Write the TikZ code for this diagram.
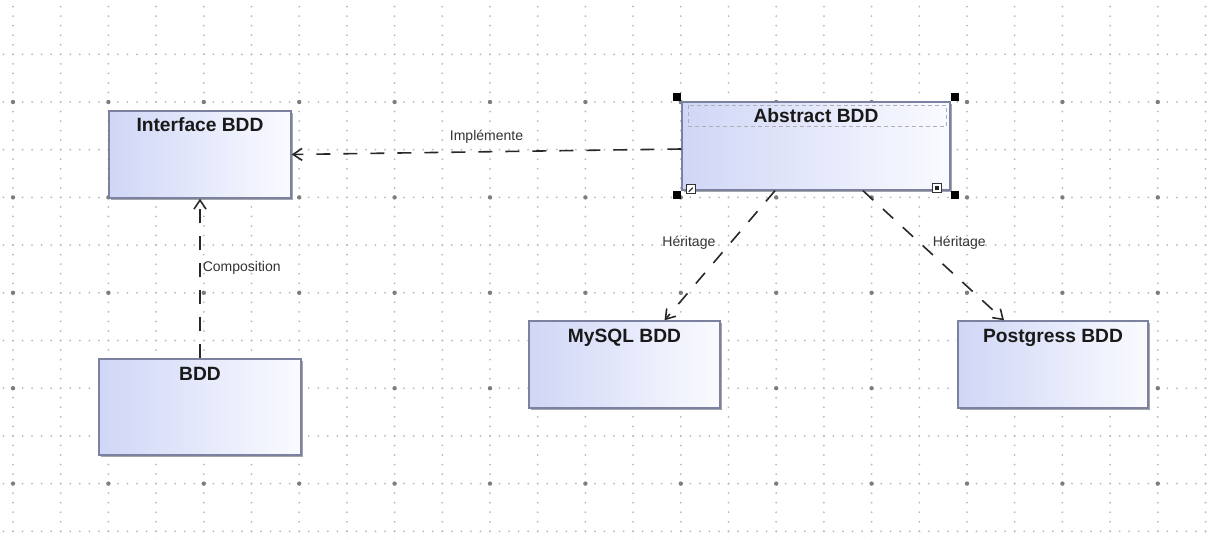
\documentclass[tikz,border=0pt]{standalone}
\usepackage{fontspec}
\setmainfont{Liberation Sans}
\usetikzlibrary{arrows.meta,shadows}

\definecolor{boxline}{RGB}{125,129,160}
\definecolor{boxleft}{RGB}{208,214,246}
\definecolor{boxright}{RGB}{250,251,255}
\definecolor{boxshadow}{RGB}{165,165,172}
\definecolor{griddot}{RGB}{185,185,185}
\definecolor{gridmajor}{RGB}{125,125,125}
\definecolor{linkcol}{RGB}{40,40,40}
\definecolor{titledash}{RGB}{175,175,185}

\tikzset{
  classbox/.style={draw=boxline, line width=0.7pt, inner sep=0pt,
    left color=boxleft, right color=boxright,
    drop shadow={shadow xshift=1pt, shadow yshift=-1pt, fill=boxshadow, opacity=1}},
  ttl/.style={font=\bfseries\fontsize{9.6}{11}\selectfont, text=black!90, anchor=base, inner sep=0pt},
  lbl/.style={font=\fontsize{7}{8}\selectfont, text=black!80},
  link/.style={draw=linkcol, line width=0.8pt, dash pattern=on 7pt off 6.5pt,
    -{Straight Barb[length=4.5pt,width=6pt]}},
  gridline/.style={draw=griddot, line width=1pt, line cap=round, dash pattern=on 0pt off 4.77pt}
}

\begin{document}
\begin{tikzpicture}[x=0.5pt,y=-0.5pt]
\fill[white] (0,0) rectangle (1210,540);
\useasboundingbox (0,0) rectangle (1210,540);

%dotted grid
\foreach \i in {0,...,25}{
  \pgfmathsetmacro\gx{13+47.7*\i}
  \draw[gridline] (\gx,-2.94) -- (\gx,545);
}
\foreach \j in {1,...,11}{
  \pgfmathsetmacro\gy{6.6+47.7*\j}
  \draw[gridline] (3.46,\gy) -- (1215,\gy);
}
\foreach \i in {0,2,...,24}
  \foreach \j in {2,4,...,10}
    \fill[gridmajor] (13+47.7*\i,6.6+47.7*\j) circle (1.1pt);

%classes
\node[classbox, minimum width=91pt, minimum height=43.5pt] (iface) at (200,154.5) {};
\node[ttl] (ifacettl) at ([yshift=-10.75pt]iface.north) {Interface BDD};

\node[classbox, minimum width=101pt, minimum height=48pt] (bdd) at (200,407) {};
\node[ttl] (bddttl) at ([yshift=-11pt]bdd.north) {BDD};

\node[classbox, minimum width=134pt, minimum height=44pt] (abstract) at (816,146) {};
\node[ttl] (abstractttl) at ([yshift=-10.75pt]abstract.north) {Abstract BDD};

\node[classbox, minimum width=95.5pt, minimum height=43.5pt] (mysql) at (624.5,364.5) {};
\node[ttl] (mysqlttl) at ([yshift=-11pt]mysql.north) {MySQL BDD};

\node[classbox, minimum width=95pt, minimum height=43.5pt] (pgsql) at (1053,364.5) {};
\node[ttl] (pgsqlttl) at ([yshift=-11pt]pgsql.north) {Postgress BDD};

%selection of Abstract BDD
\draw[titledash, line width=0.5pt, dash pattern=on 2pt off 1.5pt]
  ([shift={(7,4)}]abstract.north west) rectangle ([shift={(-4,25)}]abstract.north east);
\fill ([shift={(-8,-8)}]abstract.north west) rectangle ++(8,8);
\fill ([shift={(0,-8)}]abstract.north east) rectangle ++(8,8);
\fill ([shift={(-8,0)}]abstract.south west) rectangle ++(8,8);
\fill (abstract.south east) rectangle ++(8,8);
\draw[black!80, fill=white, line width=0.5pt] ([shift={(5,-6)}]abstract.south west) rectangle ++(9,9);
\draw[black!80, line width=0.6pt] ([shift={(7.5,1)}]abstract.south west) -- ++(4,-4);
\draw[black!80, fill=white, line width=0.5pt] ([shift={(-18,-7)}]abstract.south east) rectangle ++(9,9);
\fill[black!85] ([shift={(-15.5,-4.5)}]abstract.south east) rectangle ++(4,4);

%links
\draw[link] ([yshift=-1.5pt]abstract.west) -- node[lbl, above=0.5pt] (implbl) {Implémente} (iface.east);
\draw[link] (bdd.north) -- node[lbl, pos=0.565, right=0pt, inner sep=1pt] (complbl) {Composition} (iface.south);
\draw[link] ([xshift=-20.5pt]abstract.south) -- node[lbl, pos=0.4, left=4pt] (herlbla) {Héritage} ([xshift=20pt]mysql.north);
\draw[link] ([xshift=23.5pt]abstract.south) -- node[lbl, pos=0.4, right=3pt] (herlblb) {Héritage} ([xshift=-24.5pt]pgsql.north);
\end{tikzpicture}
\end{document}
